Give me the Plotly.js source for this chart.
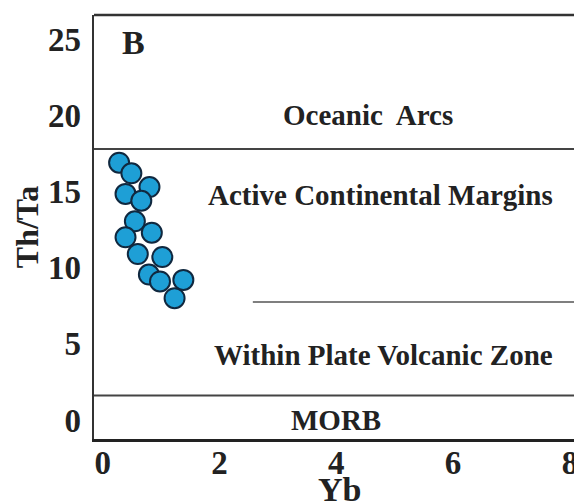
<!DOCTYPE html>
<html>
<head>
<meta charset="utf-8">
<script src="https://cdn.plot.ly/plotly-3.0.1.min.js"></script>
<style>
  html, body { margin: 0; padding: 0; background: #fff; }
  #chart { width: 574px; height: 501px; }
</style>
</head>
<body>
<div id="chart"></div>
<script>
// Th/Ta versus Yb discrimination diagram, panel B
const ybValues = [0.28, 0.49, 0.80, 0.39, 0.66, 0.55, 0.84, 0.39, 0.60, 1.02, 0.79, 0.98, 1.38, 1.23];
const thTaValues = [16.9, 16.2, 15.3, 14.85, 14.4, 13.05, 12.3, 12.0, 10.9, 10.7, 9.55, 9.1, 9.2, 8.0];

// Field boundaries (Th/Ta) and field names
const arcBoundary = 17.8;          // Oceanic Arcs / Active Continental Margins
const wpvzBoundary = 7.75;         // Active Continental Margins / Within Plate Volcanic Zone
const wpvzBoundaryStartYb = 2.57;  // that boundary starts at this Yb
const morbBoundary = 1.6;          // Within Plate Volcanic Zone / MORB
const fieldNames = ['Oceanic  Arcs', 'Active Continental Margins', 'Within Plate Volcanic Zone', 'MORB'];
const fieldLabelYb = [4.55, 4.76, 4.8, 3.99];
const fieldLabelThTa = [20.0, 14.75, 4.3, 0.0];

const xTicks = [0, 2, 4, 6, 8];
const yTicks = [0, 5, 10, 15, 20, 25];

const serif = "'Liberation Serif', 'Times New Roman', serif";
const ink = '#222222';

const trace = {
  x: ybValues,
  y: thTaValues,
  type: 'scatter',
  mode: 'markers',
  marker: {
    size: 20,
    color: '#1e9fd6',
    line: { color: '#10283f', width: 2 }
  },
  hoverinfo: 'x+y'
};

const shapes = [
  // top frame edge
  { type: 'line', xref: 'paper', yref: 'paper', x0: 0, x1: 1.01, y0: 1, y1: 1,
    line: { color: '#333', width: 2.5 } },
  { type: 'line', xref: 'paper', yref: 'y', x0: 0, x1: 1.01, y0: arcBoundary, y1: arcBoundary,
    line: { color: '#444', width: 2 } },
  { type: 'line', xref: 'x', yref: 'y', x0: wpvzBoundaryStartYb, x1: 8.2, y0: wpvzBoundary, y1: wpvzBoundary,
    line: { color: '#555', width: 1.5 } },
  { type: 'line', xref: 'paper', yref: 'y', x0: 0, x1: 1.01, y0: morbBoundary, y1: morbBoundary,
    line: { color: '#444', width: 2 } }
];

const annotations = fieldNames.map((t, i) => ({
  x: fieldLabelYb[i], y: fieldLabelThTa[i], xref: 'x', yref: 'y',
  text: '<b>' + t + '</b>', showarrow: false,
  font: { family: serif, size: 29, color: ink }
}));
annotations.push({
  x: 0.53, y: 24.8, xref: 'x', yref: 'y', text: '<b>B</b>', showarrow: false,
  font: { family: serif, size: 34, color: ink }
});
// x-axis title, set low so it runs off the bottom edge
annotations.push({
  x: 4.06, y: -0.118, xref: 'x', yref: 'paper', yanchor: 'middle',
  text: '<b>Yb</b>', showarrow: false,
  font: { family: serif, size: 34, color: ink }
});

const layout = {
  width: 574,
  height: 501,
  margin: { l: 94, r: 0, t: 15, b: 62 },
  paper_bgcolor: '#ffffff',
  plot_bgcolor: '#ffffff',
  showlegend: false,
  font: { family: serif, color: ink },
  xaxis: {
    range: [-0.15, 8.07],
    tickvals: xTicks,
    ticktext: xTicks.map(v => '<b>' + v + '</b>'),
    tickfont: { family: serif, size: 33, color: ink },
    ticks: '',
    ticklabelstandoff: -8,
    ticklabeloverflow: 'allow',
    showgrid: false,
    zeroline: false,
    showline: true,
    linecolor: '#222',
    linewidth: 3,
    automargin: false
  },
  yaxis: {
    range: [-1.25, 26.6],
    tickvals: yTicks,
    ticktext: yTicks.map(v => '<b>' + v + '</b>'),
    tickfont: { family: serif, size: 33, color: ink },
    ticks: '',
    ticklabelstandoff: 4,
    showgrid: false,
    zeroline: false,
    showline: true,
    linecolor: '#333',
    linewidth: 2.5,
    automargin: false,
    title: { text: '<b>Th/Ta</b>', font: { family: serif, size: 32, color: ink }, standoff: 0 }
  },
  shapes: shapes,
  annotations: annotations
};

Plotly.newPlot('chart', [trace], layout, { displayModeBar: false, staticPlot: true });
</script>
</body>
</html>
